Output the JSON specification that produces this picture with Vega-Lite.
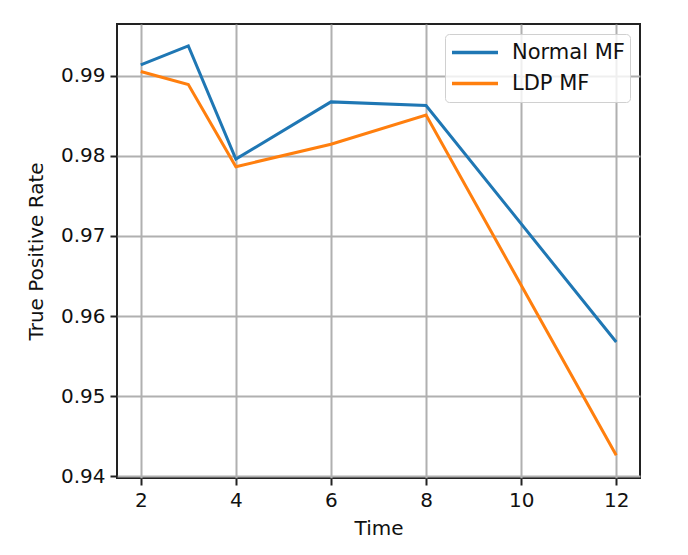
{
  "$schema": "https://vega.github.io/schema/vega-lite/v6.json",
  "width": 523,
  "height": 454,
  "autosize": {"type": "none"},
  "padding": {"left": 117, "top": 24, "right": 48, "bottom": 77},
  "background": "white",
  "data": {
    "values": [
      {"time": 2, "rate": 0.99136, "method": "Normal MF"},
      {"time": 3, "rate": 0.99372, "method": "Normal MF"},
      {"time": 4, "rate": 0.97959, "method": "Normal MF"},
      {"time": 6, "rate": 0.98673, "method": "Normal MF"},
      {"time": 8, "rate": 0.98628, "method": "Normal MF"},
      {"time": 12, "rate": 0.95676, "method": "Normal MF"},
      {"time": 2, "rate": 0.99053, "method": "LDP MF"},
      {"time": 3, "rate": 0.98889, "method": "LDP MF"},
      {"time": 4, "rate": 0.97864, "method": "LDP MF"},
      {"time": 6, "rate": 0.98145, "method": "LDP MF"},
      {"time": 8, "rate": 0.98508, "method": "LDP MF"},
      {"time": 12, "rate": 0.94264, "method": "LDP MF"}
    ]
  },
  "mark": {"type": "line", "strokeWidth": 3, "clip": true},
  "encoding": {
    "x": {
      "field": "time",
      "type": "quantitative",
      "title": "Time",
      "scale": {"domain": [1.5, 12.5], "nice": false, "zero": false},
      "axis": {"values": [2, 4, 6, 8, 10, 12], "format": "d"}
    },
    "y": {
      "field": "rate",
      "type": "quantitative",
      "title": "True Positive Rate",
      "scale": {"domain": [0.93979, 0.99645], "nice": false, "zero": false},
      "axis": {"values": [0.94, 0.95, 0.96, 0.97, 0.98, 0.99], "format": ".2f"}
    },
    "color": {
      "field": "method",
      "type": "nominal",
      "sort": ["Normal MF", "LDP MF"],
      "scale": {"domain": ["Normal MF", "LDP MF"], "range": ["#1f77b4", "#ff7f0e"]},
      "legend": {
        "title": null,
        "orient": "none",
        "legendX": 328,
        "legendY": 10,
        "symbolType": "stroke",
        "symbolStrokeWidth": 3.5,
        "symbolSize": 2116,
        "clipHeight": 27,
        "labelOffset": 12,
        "labelFontSize": 21,
        "labelFont": "DejaVu Sans",
        "labelColor": "#111",
        "rowPadding": 4,
        "padding": 5,
        "strokeColor": "#d0d0d0",
        "fillColor": "rgba(255,255,255,0.8)",
        "cornerRadius": 4
      }
    }
  },
  "config": {
    "view": {"stroke": "#222", "strokeWidth": 2},
    "axis": {
      "grid": true,
      "gridColor": "#b0b0b0",
      "gridWidth": 2,
      "domain": false,
      "tickColor": "#222",
      "tickSize": 7,
      "tickWidth": 2,
      "labelFont": "DejaVu Sans",
      "labelFontSize": 20,
      "labelColor": "#111",
      "labelPadding": 5,
      "titleFont": "DejaVu Sans",
      "titleFontSize": 20,
      "titleFontWeight": "normal",
      "titleColor": "#111"
    },
    "axisX": {"titlePadding": 8},
    "axisY": {"titlePadding": 14}
  }
}
